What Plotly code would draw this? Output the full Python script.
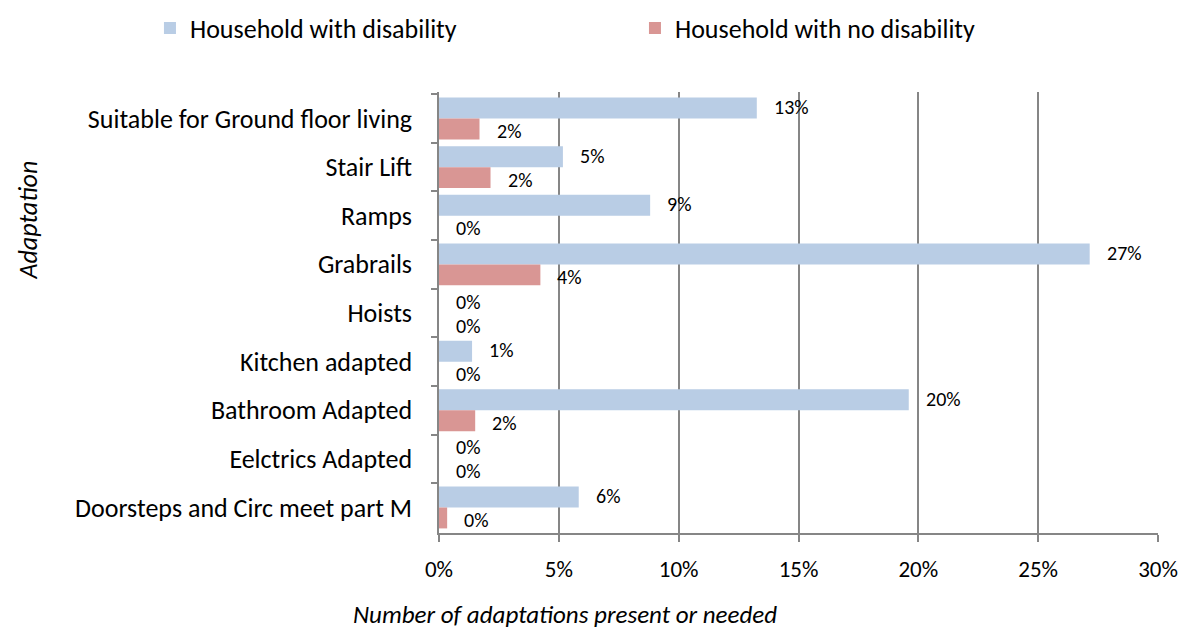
import plotly.graph_objects as go

# Adaptation categories (top to bottom)
categories = [
    "Suitable for Ground floor living",
    "Stair Lift",
    "Ramps",
    "Grabrails",
    "Hoists",
    "Kitchen adapted",
    "Bathroom Adapted",
    "Eelctrics Adapted",
    "Doorsteps and Circ meet part M",
]

# Share of households (%) with each adaptation present or needed
with_disability = [13.26, 5.17, 8.81, 27.15, 0.0, 1.38, 19.6, 0.0, 5.83]
no_disability = [1.69, 2.15, 0.0, 4.23, 0.0, 0.0, 1.51, 0.0, 0.34]

series_names = ["Household with disability", "Household with no disability"]
series_colors = ["#B9CDE5", "#D99694"]

x_ticks = [0, 5, 10, 15, 20, 25, 30]
x_tick_labels = ["0%", "5%", "10%", "15%", "20%", "25%", "30%"]

FONT = "Carlito, Lato, sans-serif"
FS = 26
GRID = "#868686"

fig = go.Figure()
for name, vals, col in zip(series_names, [with_disability, no_disability], series_colors):
    fig.add_trace(go.Bar(
        y=categories, x=vals, name=name, orientation="h",
        marker=dict(color=col, line=dict(width=0)),
    ))

# Value labels placed just beyond each bar end
annotations = []
for i, vals in enumerate([with_disability, no_disability]):
    shift = 11.5 if i == 0 else -12.5
    for cat, v in zip(categories, vals):
        annotations.append(dict(
            x=v, y=cat, xref="x", yref="y", text=f"{round(v):.0f}%",
            showarrow=False, xanchor="left", yanchor="middle",
            xshift=15, yshift=shift,
            font=dict(family=FONT, size=20, color="#000000"),
        ))

annotations.append(dict(
    text="<i>Adaptation</i>", textangle=-90, xref="paper", yref="paper",
    x=-0.572, y=0.71, showarrow=False, xanchor="center", yanchor="middle",
    font=dict(family=FONT, size=FS, color="#000000"),
))
annotations.append(dict(
    text="<i>Number of adaptations present or needed</i>", xref="paper", yref="paper",
    x=0.175, y=-0.185, showarrow=False, xanchor="center", yanchor="middle",
    font=dict(family=FONT, size=25, color="#000000"),
))

fig.update_layout(
    width=1184, height=630,
    margin=dict(l=439, r=26, t=92, b=97, autoexpand=False),
    paper_bgcolor="white", plot_bgcolor="white",
    barmode="group", bargap=0.14, bargroupgap=0,
    font=dict(family=FONT, size=FS, color="#000000"),
    showlegend=True,
    legend=dict(
        orientation="h", x=-0.402, y=1.145, xanchor="left", yanchor="middle",
        entrywidth=440, entrywidthmode="pixels",
        font=dict(family=FONT, size=FS, color="#000000"),
        bgcolor="rgba(0,0,0,0)",
    ),
    annotations=annotations,
)

fig.update_xaxes(
    range=[0, 30], tickvals=x_ticks, ticktext=x_tick_labels,
    tickfont=dict(family=FONT, size=23, color="#000000"),
    showgrid=True, gridcolor=GRID, gridwidth=1.5,
    showline=True, linecolor=GRID, linewidth=1.5,
    ticks="outside", ticklen=7, tickcolor=GRID, tickwidth=1.5,
    ticklabelstandoff=8,
    zeroline=False, fixedrange=True,
)
fig.update_yaxes(
    autorange="reversed", tickson="boundaries",
    showgrid=False, showline=True, linecolor=GRID, linewidth=1.5,
    ticks="outside", ticklen=6, tickcolor=GRID, tickwidth=1.5,
    ticklabelstandoff=20,
    fixedrange=True,
)

fig.write_html("out.html")
